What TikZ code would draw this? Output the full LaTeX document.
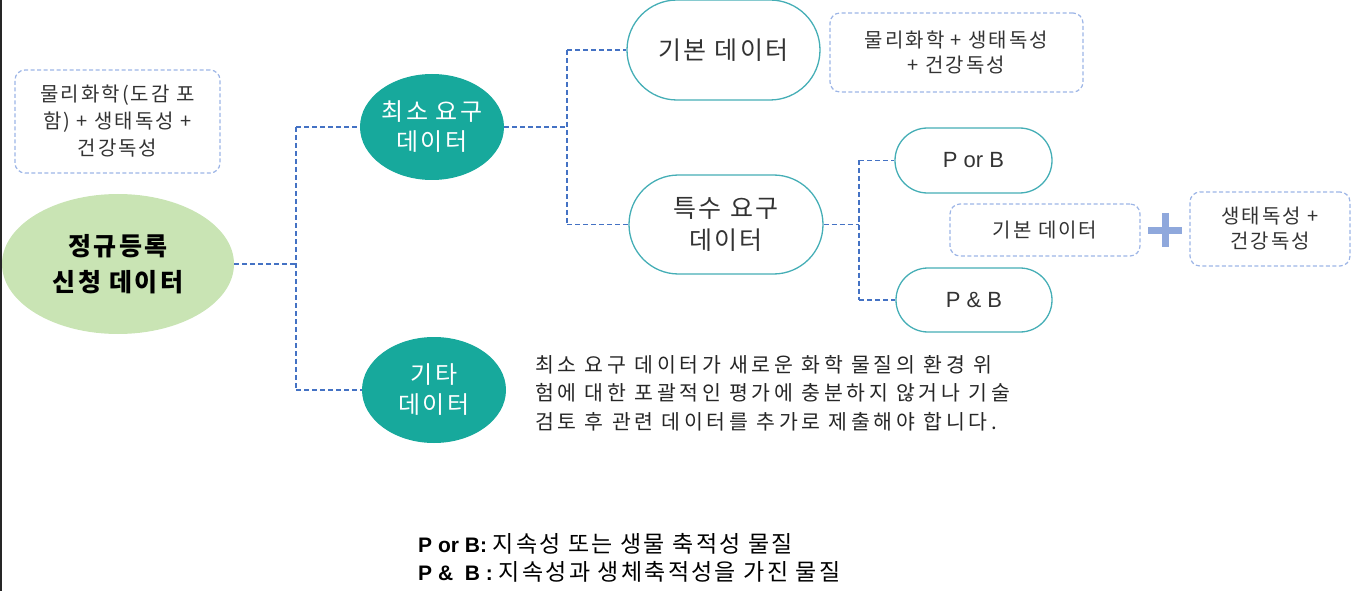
\documentclass[tikz,border=0pt]{standalone}
\usepackage{fontspec}
\setmainfont{Liberation Sans}
\newfontfamily\kr[LetterSpace=10]{Noto Sans CJK KR}
\newfontfamily\krw[LetterSpace=18]{Noto Sans CJK KR}
\usetikzlibrary{shapes.geometric,shapes.misc}
\definecolor{conn}{HTML}{4472C4}
\definecolor{dbox}{HTML}{9DB5E6}
\definecolor{teal}{HTML}{17A99C}
\definecolor{lgreen}{HTML}{C9E4B4}
\definecolor{stad}{HTML}{45AEB6}
\definecolor{plusc}{HTML}{8FA8DC}
\begin{document}
\begin{tikzpicture}[x=1pt,y=-1pt,
  conn/.style={draw=conn,dashed,dash pattern=on 5pt off 3pt,line width=1.4pt},
  dbox/.style={draw=dbox,dashed,dash pattern=on 4pt off 2.5pt,line width=1.2pt,rounded corners=10pt,align=center,font=\kr\fontsize{20}{25}\selectfont,text=black!80},
  tealell/.style={ellipse,fill=teal,text=white,align=center,inner sep=0pt,font=\kr\fontsize{24}{30}\selectfont},
  stad/.style={rounded rectangle,draw=stad,line width=1.3pt,align=center,inner sep=0pt,font=\kr\fontsize{25}{32}\selectfont,text=black!80}]
\useasboundingbox (0,0) rectangle (1353,591);
\draw[line width=1.8pt,black!85] (0.9,0) -- (0.9,591);
% left
\node[ellipse,fill=lgreen,minimum width=232pt,minimum height=140pt,align=center,font=\kr\bfseries\fontsize{25}{36}\selectfont] (reg) at (118,264) {정규등록\\신청 데이터};
\node[dbox,minimum width=205pt,minimum height=103pt,font=\kr\fontsize{20}{27}\selectfont] (b1) at (117.5,121.5) {물리화학(도감 포\\함) + 생태독성 +\\건강독성};
\node[tealell,minimum width=144pt,minimum height=106pt] (min) at (432,127) {최소 요구\\데이터};
\node[tealell,minimum width=144pt,minimum height=106pt] (etc) at (434,390) {기타\\데이터};
\coordinate (j1) at (296,264);
\draw[conn] (reg.east) -- (j1);
\draw[conn] (j1 |- min.west) -- (j1 |- etc.west);
\draw[conn] (j1 |- min.west) -- (min.west);
\draw[conn] (j1 |- etc.west) -- (etc.west);
% middle
\node[stad,minimum width=193pt,minimum height=100pt] (basic) at (723.5,50) {기본 데이터};
\node[stad,minimum width=194pt,minimum height=99pt] (spec) at (726,224.5) {특수 요구\\데이터};
\coordinate (j2) at (567,127);
\draw[conn] (min.east) -- (j2);
\draw[conn] (j2 |- basic.west) -- (j2 |- spec.west);
\draw[conn] (j2 |- basic.west) -- (basic.west);
\draw[conn] (j2 |- spec.west) -- (spec.west);
\node[dbox,minimum width=253pt,minimum height=79pt] (b2) at (956.5,52.5) {물리화학 + 생태독성\\+ 건강독성};
% right
\node[stad,minimum width=157pt,minimum height=65pt,font=\fontsize{22}{26}\selectfont] (pb) at (973.5,160.5) {P or B};
\node[stad,minimum width=156pt,minimum height=64pt,font=\fontsize{22}{26}\selectfont] (pnb) at (974,300) {P \& B};
\coordinate (j3) at (859,224.5);
\draw[conn] (spec.east) -- (j3);
\draw[conn] (j3 |- pb.west) -- (j3 |- pnb.west);
\draw[conn] (j3 |- pb.west) -- (pb.west);
\draw[conn] (j3 |- pnb.west) -- (pnb.west);
\node[dbox,minimum width=190pt,minimum height=52pt] (b3) at (1045,230) {기본 데이터};
\node[inner sep=0pt] (plus) at (1165,230) {};
\draw[plusc,line width=7pt] (1148,230) -- (1182,230) (1165,213) -- (1165,247);
\node[dbox,minimum width=160pt,minimum height=74pt] (b4) at (1270,229) {생태독성 +\\건강독성};
% paragraph
\node[anchor=north west,align=left,inner sep=0pt,font=\krw\fontsize{20.5}{28.5}\selectfont,text=black!85] (para) at (535,355) {최소 요구 데이터가 새로운 화학 물질의 환경 위\\험에 대한 포괄적인 평가에 충분하지 않거나 기술\\검토 후 관련 데이터를 추가로 제출해야 합니다.};
\node[anchor=west,inner sep=0pt,font=\fontsize{21}{24}\selectfont] (n1) at (418,544) {\textbf{P or B:} {\kr\fontsize{23}{24}\selectfont 지속성 또는 생물 축적성 물질}};
\node[anchor=west,inner sep=0pt,font=\fontsize{21}{24}\selectfont] (n2) at (418,572) {\textbf{P \&\ \ B :} {\kr\fontsize{23}{24}\selectfont 지속성과 생체축적성을 가진 물질}};
\end{tikzpicture}
\end{document}
